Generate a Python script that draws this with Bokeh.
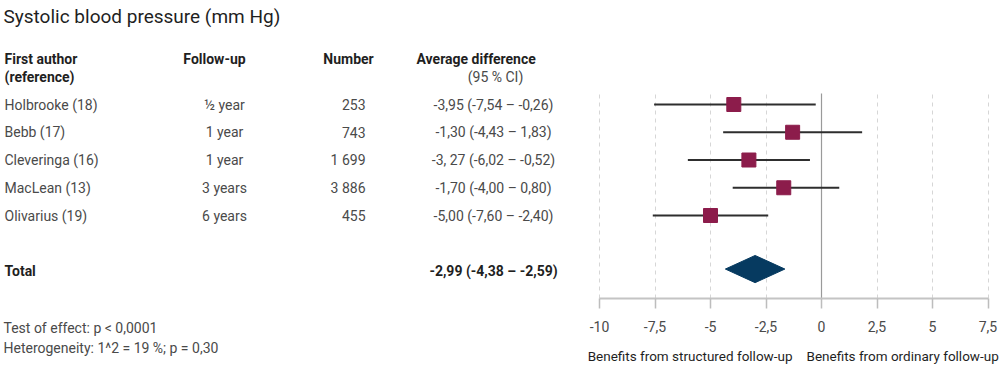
from bokeh.plotting import figure
from bokeh.models import Range1d, FixedTicker, LinearAxis, Grid, ColumnDataSource
from bokeh.core.properties import value
from bokeh.embed import file_html
from bokeh.resources import INLINE

# ---------------- data ----------------
authors = ["Holbrooke (18)", "Bebb (17)", "Cleveringa (16)", "MacLean (13)", "Olivarius (19)"]
followup = ["\u00bd year", "1 year", "1 year", "3 years", "6 years"]
numbers = ["253", "743", "1 699", "3 886", "455"]
diff_text = ["-3,95 (-7,54 \u2013 -0,26)", "-1,30 (-4,43 \u2013 1,83)", "-3, 27 (-6,02 \u2013 -0,52)",
             "-1,70 (-4,00 \u2013 0,80)", "-5,00 (-7,60 \u2013 -2,40)"]
estimate = [-3.95, -1.30, -3.27, -1.70, -5.00]
ci_low = [-7.54, -4.43, -6.02, -4.00, -7.60]
ci_high = [-0.26, 1.83, -0.52, 0.80, -2.40]

total_text = "-2,99 (-4,38 \u2013 -2,59)"
total_est = -2.99
total_diamond_low = -4.33   # as drawn in the picture
total_diamond_high = -1.65  # as drawn in the picture

tick_values = [-10, -7.5, -5, -2.5, 0, 2.5, 5, 7.5]
tick_labels = ["-10", "-7,5", "-5", "-2,5", "0", "2,5", "5", "7,5"]

FONT = "Roboto"
GRAY = "#4a4a4a"
DARK = "#1f1f1f"

# ---------------- layout helpers (pixel -> data) ----------------
W, H = 1000, 373
X_LO, X_HI = -10, 7.5
PX_LO, PX_HI = 599, 987.5
SX = (PX_HI - PX_LO) / (X_HI - X_LO)
ROW_PX = 27.75
ROW0 = 104

def px_x(px):
    return X_LO + (px - PX_LO) / SX

def px_y(px):
    return (px - ROW0) / ROW_PX

study_rows = list(range(len(authors)))
total_row = 6

p = figure(width=W, height=H, output_backend="svg", toolbar_location=None,
           x_range=Range1d(px_x(0), px_x(W)), y_range=Range1d(px_y(H), px_y(0)),
           x_axis_type=None, y_axis_type=None,
           min_border=0, min_border_left=0, min_border_right=0,
           min_border_top=0, min_border_bottom=0)
p.outline_line_color = None
p.grid.visible = False


def txt(x, y, t, align="left", size="14px", color=GRAY, style="normal"):
    p.text(x=x, y=y, text=t, text_align=align, text_baseline="middle",
           text_font=value(FONT), text_font_size=size, text_color=color,
           text_font_style=style)

# ---------------- table ----------------
txt([px_x(3)], [px_y(16)], ["Systolic blood pressure (mm Hg)"], size="19px", color=DARK)
txt([px_x(4)], [px_y(58)], ["First author"], color=DARK, style="bold")
txt([px_x(4)], [px_y(76)], ["(reference)"], color=DARK, style="bold")
txt([px_x(214)], [px_y(58)], ["Follow-up"], align="center", color=DARK, style="bold")
txt([px_x(348)], [px_y(58)], ["Number"], align="center", color=DARK, style="bold")
txt([px_x(416)], [px_y(58)], ["Average difference"], color=DARK, style="bold")
txt([px_x(495)], [px_y(76)], ["(95 % CI)"], align="center")

src = ColumnDataSource(dict(y=study_rows, a=authors, f=followup, n=numbers, d=diff_text))
for col, xp, al in [("a", 4, "left"), ("f", 224, "center"), ("n", 365, "right"), ("d", 493, "center")]:
    p.text(x=px_x(xp), y="y", text=col, source=src, text_align=al, text_baseline="middle",
           text_font=value(FONT), text_font_size="14px", text_color=GRAY)

txt([px_x(4)], [total_row], ["Total"], color=DARK, style="bold")
txt([px_x(493)], [total_row], [total_text], align="center", color=DARK, style="bold")

txt([px_x(3)], [px_y(327)], ["Test of effect: p < 0,0001"])
txt([px_x(3)], [px_y(347)], ["Heterogeneity: 1^2 = 19 %; p = 0,30"])

# ---------------- forest ----------------
AX_Y = px_y(298)
TOP_Y = px_y(93)

grid = Grid(dimension=0, ticker=FixedTicker(ticks=[t for t in tick_values if t != 0]),
            grid_line_color="#d6d6d6", grid_line_dash="4 4", grid_line_width=1)
zero = Grid(dimension=0, ticker=FixedTicker(ticks=[0]),
            grid_line_color="#9a9a9a", grid_line_width=1.2)
for g in (grid, zero):
    g.cross_bounds = (AX_Y, TOP_Y)
    p.add_layout(g)

xaxis = LinearAxis(fixed_location=AX_Y, bounds=(X_LO, X_HI),
                   ticker=FixedTicker(ticks=tick_values),
                   major_label_overrides=dict(zip(tick_values, tick_labels)),
                   axis_line_color="#c4c4c4", axis_line_width=2,
                   major_tick_line_color="#bdbdbd", major_tick_line_width=1.5,
                   major_tick_out=10, major_tick_in=0,
                   minor_tick_line_color=None, major_label_standoff=12,
                   major_label_text_font=FONT, major_label_text_font_size="14px",
                   major_label_text_color=GRAY)
p.add_layout(xaxis, "below")

p.segment(x0=ci_low, x1=ci_high, y0=study_rows, y1=study_rows,
          line_color="#2e2e2e", line_width=2.2)
p.scatter(x=estimate, y=study_rows, marker="square", size=14,
          fill_color="#8c1c4b", line_color="#8c1c4b")

dh = 0.49
dy = total_row - 0.07
p.patch(x=[total_diamond_low, total_est, total_diamond_high, total_est],
        y=[dy, dy - dh, dy, dy + dh],
        fill_color="#063a60", line_color="#063a60")

txt([px_x(792)], [px_y(355)], ["Benefits from structured follow-up"], align="right", size="13.5px", color=DARK)
txt([px_x(806)], [px_y(355)], ["Benefits from ordinary follow-up"], align="left", size="13.5px", color=DARK)

open("out.html", "w").write(file_html(p, INLINE))
